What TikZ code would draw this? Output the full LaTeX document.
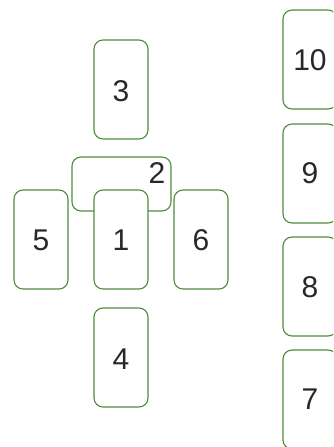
\documentclass[tikz,border=0pt]{standalone}
\usepackage{fontspec}
\setmainfont{Liberation Sans}
\definecolor{cardgreen}{RGB}{78,140,62}
\definecolor{numgray}{RGB}{40,40,40}
\begin{document}
\begin{tikzpicture}[x=1pt,y=-1pt,
  card/.style={draw=cardgreen, line width=1.1pt, fill=white, rounded corners=9pt},
  num/.style={font=\fontsize{30}{30}\selectfont, text=numgray, inner sep=0pt}]
\useasboundingbox (0,0) rectangle (333,447);
\clip (0,0) rectangle (333,447);
% card 3
\draw[card] (94,40) rectangle (148,139);
\node[num] (n3) at (121,91) {3};
% card 2 (crossing)
\draw[card] (72,157) rectangle (171,211);
\node[num] (n2) at (157,173) {2};
% card 1
\draw[card] (94,190) rectangle (148,289);
\node[num] (n1) at (121,240) {1};
% card 5
\draw[card] (14,190) rectangle (68,289);
\node[num] (n5) at (41,240) {5};
% card 6
\draw[card] (174,190) rectangle (228,289);
\node[num] (n6) at (201,240) {6};
% card 4
\draw[card] (94,308) rectangle (148,407);
\node[num] (n4) at (121,359) {4};
% right column
\draw[card] (283,10) rectangle (337,109);
\node[num] (n10) at (310,60) {10};
\draw[card] (283,124) rectangle (337,223);
\node[num] (n9) at (310,173) {9};
\draw[card] (283,237) rectangle (337,336);
\node[num] (n8) at (310,287) {8};
\draw[card] (283,350) rectangle (337,449);
\node[num] (n7) at (310,399) {7};
\end{tikzpicture}
\end{document}
